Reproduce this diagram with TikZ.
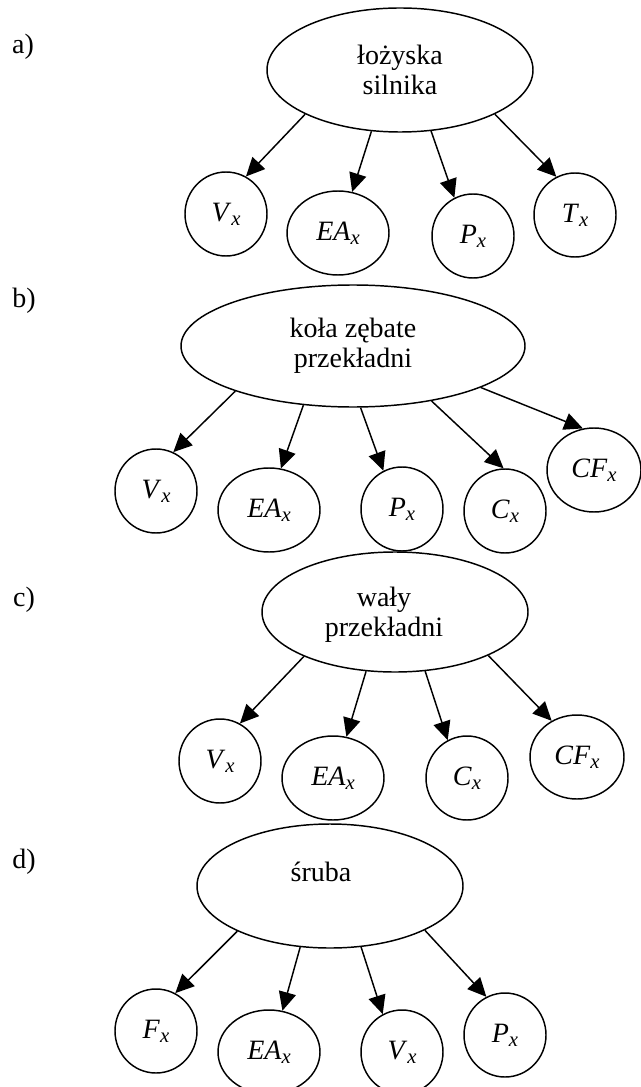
\documentclass[tikz,border=0pt]{standalone}
\usepackage{fontspec}
\setmainfont{Liberation Serif}
\usetikzlibrary{positioning, shapes.geometric, arrows.meta}
\newcommand{\idx}[2]{\textit{#1}\raisebox{-0.3ex}{\fontsize{15.5}{15.5}\selectfont\textit{#2}}}

\begin{document}
\begin{tikzpicture}[x=0.75pt, y=-0.75pt,
font=\fontsize{21}{22.5}\selectfont,
group/.style={ellipse, draw, line width=1.1pt, minimum width=199.5pt, minimum height=93pt, align=center, inner sep=0pt},
leaf/.style={ellipse, draw, line width=1.1pt, minimum width=61.5pt, minimum height=63pt, inner sep=0pt},
wide/.style={leaf, minimum width=76.5pt},
arrow/.style={-{Triangle[length=14pt,width=13pt]}, line width=1.1pt}
]
\path[fill=white, use as bounding box] (0,0) rectangle (641,1087);

% a) lozyska silnika
\node (lab-a) at (23,47) {a)};
\node[group] (loz) at (400,70) {łożyska\\silnika};
\node[leaf] (loz-v) at (226,214) {\idx{V}{x}};
\node[wide] (loz-ea) at (338,233) {\idx{EA}{x}};
\node[leaf] (loz-p) at (473,236) {\idx{P}{x}};
\node[leaf] (loz-t) at (575,215) {\idx{T}{x}};

\draw[arrow] (loz.205) -- (loz-v.62);
\draw[arrow] (loz.245) -- (loz-ea.71);
\draw[arrow] (loz.297) -- (loz-p.116);
\draw[arrow] (loz.335) -- (loz-t.116);

% b) kola zebate
\node (lab-b) at (24,301) {b)};
\node[group, minimum width=258pt, minimum height=91.5pt] (kol) at (353,346) {koła zębate\\przekładni};
\node[leaf] (kol-v) at (156,491) {\idx{V}{x}};
\node[wide] (kol-ea) at (269,510) {\idx{EA}{x}};
\node[leaf] (kol-p) at (402,509) {\idx{P}{x}};
\node[leaf] (kol-c) at (505,511) {\idx{C}{x}};
\node[wide, minimum width=70.5pt] (kol-cf) at (594,470) {\idx{CF}{x}};

\draw[arrow] (kol.201) -- (kol-v.66);
\draw[arrow] (kol.230) -- (kol-ea.74);
\draw[arrow] (kol.277) -- (kol-p.116);
\draw[arrow] (kol.325) -- (kol-c.92);
\draw[arrow] (kol.342) -- (kol-cf.105);

% c) waly przekladni
\node (lab-c) at (24,600) {c)};
\node[group, minimum height=90pt] (wal) at (395,612) {};
\node[align=center] (wal-txt) at (384,615) {wały\\przekładni};
\node[leaf] (wal-v) at (220,761) {\idx{V}{x}};
\node[wide] (wal-ea) at (333,778) {\idx{EA}{x}};
\node[leaf] (wal-c) at (467,778) {\idx{C}{x}};
\node[wide, minimum width=70.5pt] (wal-cf) at (577,757) {\idx{CF}{x}};

\draw[arrow] (wal.206) -- (wal-v.62);
\draw[arrow] (wal.244) -- (wal-ea.72);
\draw[arrow] (wal.297) -- (wal-c.117);
\draw[arrow] (wal.335) -- (wal-cf.125);

% d) sruba
\node (lab-d) at (24,862) {d)};
\node[group] (sru) at (330,886) {};
\node (sru-txt) at (321,872) {śruba};
\node[leaf] (sru-f) at (156,1031) {\idx{F}{x}};
\node[wide] (sru-ea) at (269,1052) {\idx{EA}{x}};
\node[leaf] (sru-v) at (402,1052) {\idx{V}{x}};
\node[leaf] (sru-p) at (505,1035) {\idx{P}{x}};

\draw[arrow] (sru.206) -- (sru-f.63);
\draw[arrow] (sru.244) -- (sru-ea.72);
\draw[arrow] (sru.297) -- (sru-v.117);
\draw[arrow] (sru.335) -- (sru-p.116);

\end{tikzpicture}
\end{document}
